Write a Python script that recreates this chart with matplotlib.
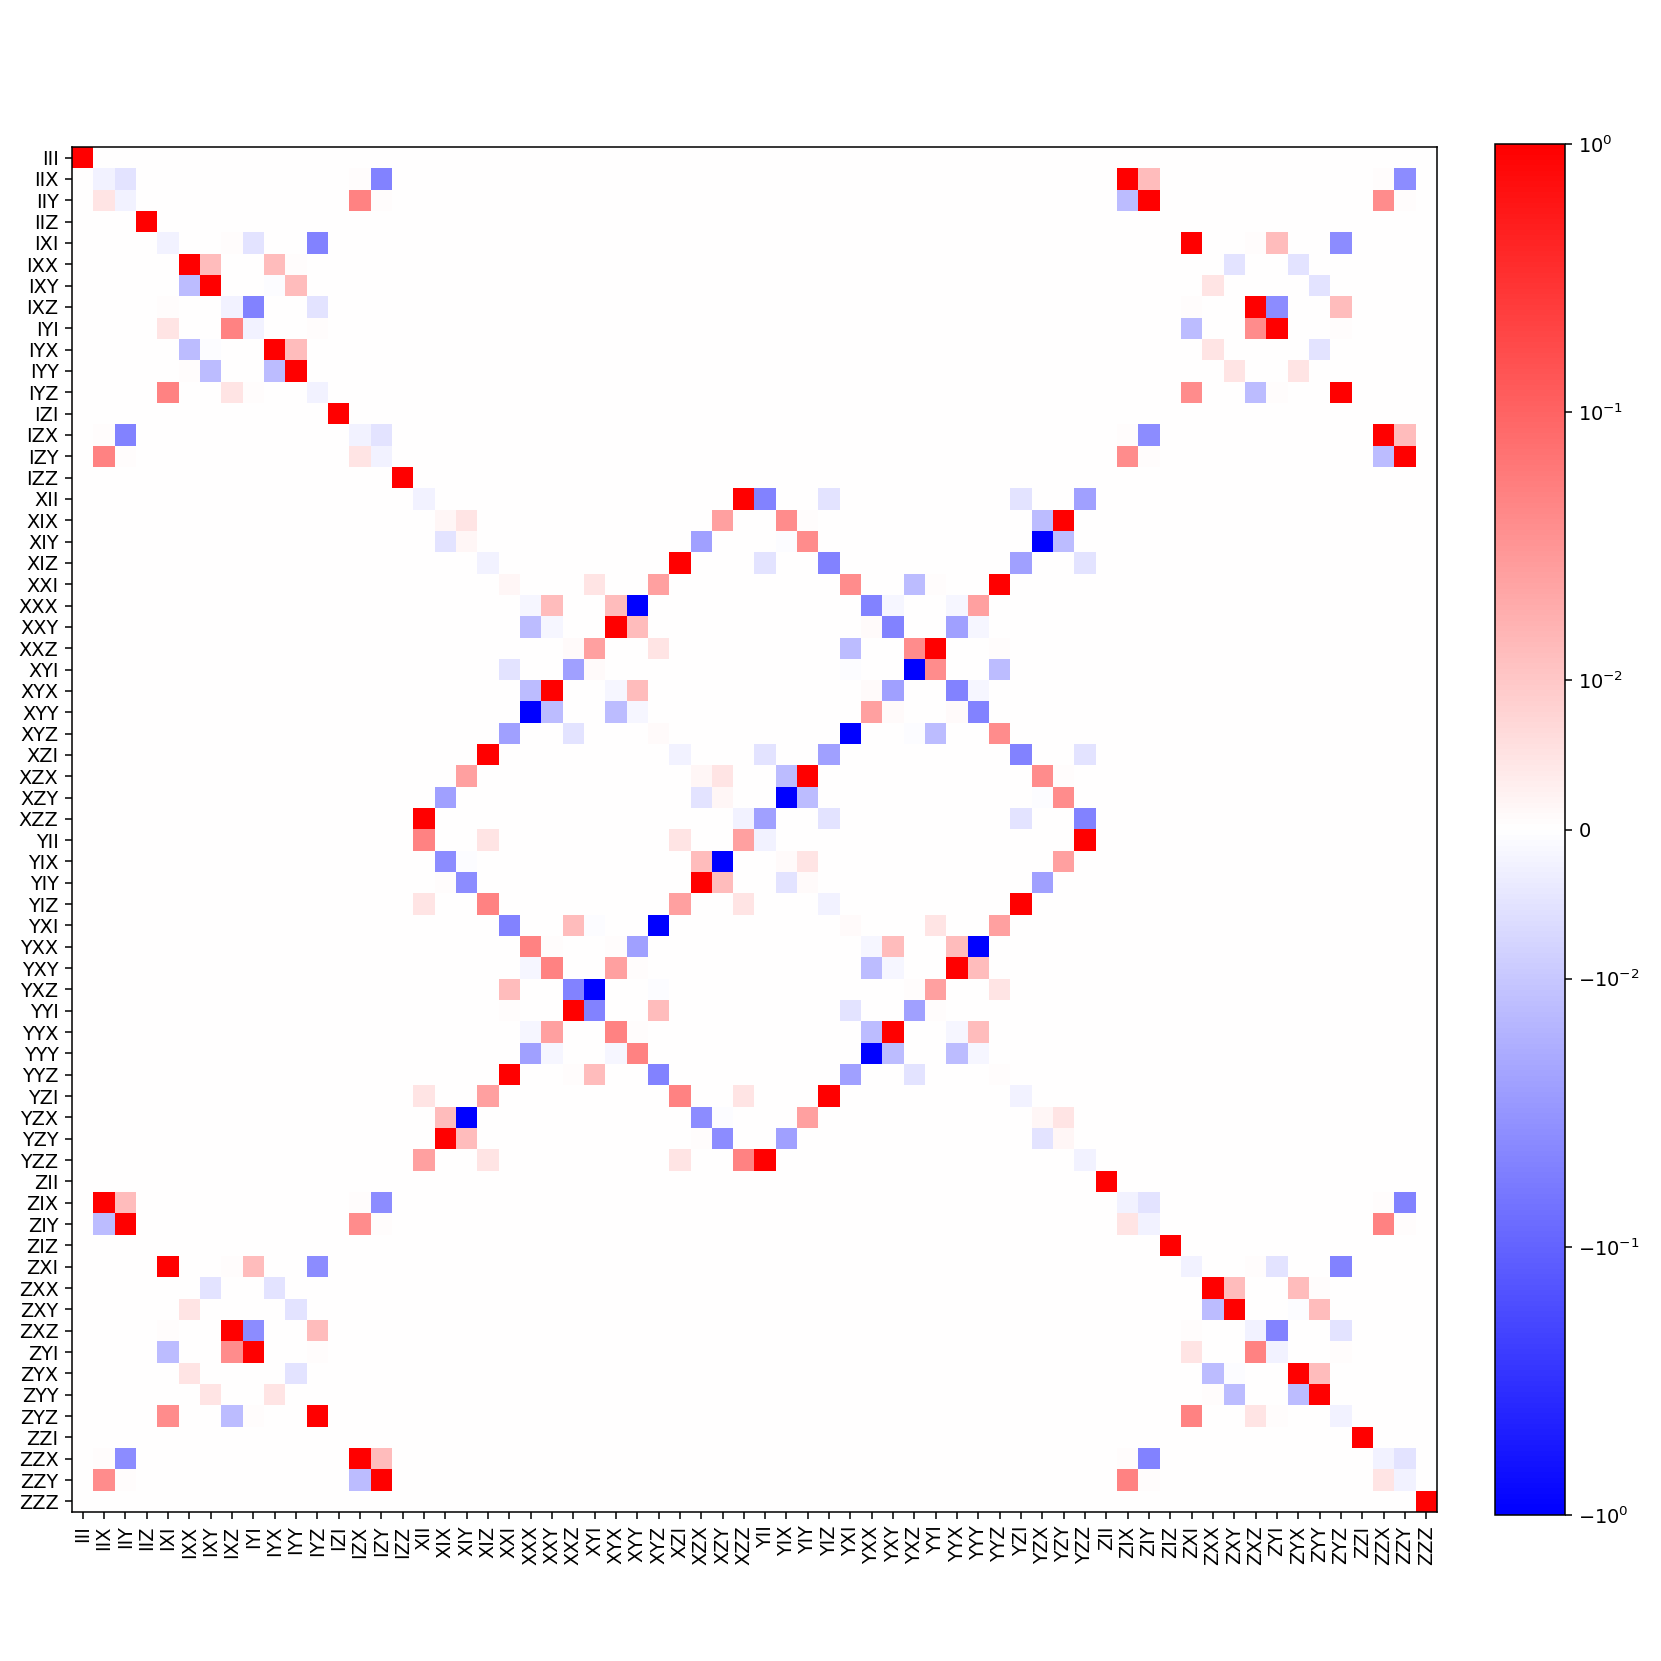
import numpy as np
import matplotlib
matplotlib.use("Agg")
import matplotlib.pyplot as plt
from matplotlib.colors import SymLogNorm

paulis = ["I", "X", "Y", "Z"]
labels = [a + b + c for a in paulis for b in paulis for c in paulis]

# Non-zero entries, grouped by the first Pauli of the row label
rows_I = {
    "III": {"III": 1.0},
    "IIX": {"IIX": -0.0025, "IIY": -0.005, "IZX": 0.0005, "IZY": -0.05, "ZIX": 1.0, "ZIY": 0.013, "ZZX": 0.0005, "ZZY": -0.04},
    "IIY": {"IIX": 0.005, "IIY": -0.0025, "IZX": 0.05, "IZY": 0.0005, "ZIX": -0.013, "ZIY": 1.0, "ZZX": 0.04, "ZZY": 0.0005},
    "IIZ": {"IIZ": 1.0},
    "IXI": {"IXI": -0.0025, "IXZ": 0.0005, "IYI": -0.005, "IYZ": -0.05, "ZXI": 1.0, "ZXZ": 0.0005, "ZYI": 0.013, "ZYZ": -0.04},
    "IXX": {"IXX": 1.0, "IXY": 0.013, "IYX": 0.013, "IYY": 0.0005, "ZXY": -0.005, "ZYX": -0.005},
    "IXY": {"IXX": -0.013, "IXY": 1.0, "IYX": -0.0005, "IYY": 0.013, "ZXX": 0.005, "ZYY": -0.005},
    "IXZ": {"IXI": 0.0005, "IXZ": -0.0025, "IYI": -0.05, "IYZ": -0.005, "ZXI": 0.0005, "ZXZ": 1.0, "ZYI": -0.04, "ZYZ": 0.013},
    "IYI": {"IXI": 0.005, "IXZ": 0.05, "IYI": -0.0025, "IYZ": 0.0005, "ZXI": -0.013, "ZXZ": 0.04, "ZYI": 1.0, "ZYZ": 0.0005},
    "IYX": {"IXX": -0.013, "IXY": -0.0005, "IYX": 1.0, "IYY": 0.013, "ZXX": 0.005, "ZYY": -0.005},
    "IYY": {"IXX": 0.0005, "IXY": -0.013, "IYX": -0.013, "IYY": 1.0, "ZXY": 0.005, "ZYX": 0.005},
    "IYZ": {"IXI": 0.05, "IXZ": 0.005, "IYI": 0.0005, "IYZ": -0.0025, "ZXI": 0.04, "ZXZ": -0.013, "ZYI": 0.0005, "ZYZ": 1.0},
    "IZI": {"IZI": 1.0},
    "IZX": {"IIX": 0.0005, "IIY": -0.05, "IZX": -0.0025, "IZY": -0.005, "ZIX": 0.0005, "ZIY": -0.04, "ZZX": 1.0, "ZZY": 0.013},
    "IZY": {"IIX": 0.05, "IIY": 0.0005, "IZX": 0.005, "IZY": -0.0025, "ZIX": 0.04, "ZIY": 0.0005, "ZZX": -0.013, "ZZY": 1.0},
    "IZZ": {"IZZ": 1.0},
}

rows_X = {
    "XII": {"XII": -0.0025, "XZZ": 1.0, "YII": -0.05, "YIZ": -0.005, "YZI": -0.005, "YZZ": -0.025},
    "XIX": {"XIX": 0.0015, "XIY": 0.005, "XZY": 0.025, "YIX": 0.04, "YIY": 0.0005, "YZX": -0.013, "YZY": 1.0},
    "XIY": {"XIX": -0.005, "XIY": 0.0015, "XZX": -0.025, "YIX": -0.0005, "YIY": 0.04, "YZX": -1.0, "YZY": -0.013},
    "XIZ": {"XIZ": -0.0025, "XZI": 1.0, "YII": -0.005, "YIZ": -0.05, "YZI": -0.025, "YZZ": -0.005},
    "XXI": {"XXI": 0.0015, "XYI": 0.005, "XYZ": 0.025, "YXI": 0.04, "YXZ": -0.013, "YYI": 0.0005, "YYZ": 1.0},
    "XXX": {"XXX": -0.0015, "XXY": 0.013, "XYX": 0.013, "XYY": -1.0, "YXX": -0.05, "YXY": -0.0015, "YYX": -0.0015, "YYY": 0.025},
    "XXY": {"XXX": -0.013, "XXY": -0.0015, "XYX": 1.0, "XYY": 0.013, "YXX": 0.0008, "YXY": -0.05, "YYX": -0.025, "YYY": -0.0015},
    "XXZ": {"XXZ": 0.0008, "XYI": 0.025, "XYZ": 0.005, "YXI": -0.013, "YXZ": 0.04, "YYI": 1.0, "YYZ": 0.0005},
    "XYI": {"XXI": -0.005, "XXZ": -0.025, "XYI": 0.0008, "YXI": -0.0005, "YXZ": -1.0, "YYI": 0.04, "YYZ": -0.013},
    "XYX": {"XXX": -0.013, "XXY": 1.0, "XYX": -0.0015, "XYY": 0.013, "YXX": 0.0008, "YXY": -0.025, "YYX": -0.05, "YYY": -0.0015},
    "XYY": {"XXX": -1.0, "XXY": -0.013, "XYX": -0.013, "XYY": -0.0015, "YXX": 0.025, "YXY": 0.0008, "YYX": 0.0008, "YYY": -0.05},
    "XYZ": {"XXI": -0.025, "XXZ": -0.005, "XYZ": 0.0008, "YXI": -1.0, "YXZ": -0.0005, "YYI": -0.013, "YYZ": 0.04},
    "XZI": {"XIZ": 1.0, "XZI": -0.0025, "YII": -0.005, "YIZ": -0.025, "YZI": -0.05, "YZZ": -0.005},
    "XZX": {"XIY": 0.025, "XZX": 0.0015, "XZY": 0.005, "YIX": -0.013, "YIY": 1.0, "YZX": 0.04, "YZY": 0.0005},
    "XZY": {"XIX": -0.025, "XZX": -0.005, "XZY": 0.0015, "YIX": -1.0, "YIY": -0.013, "YZX": -0.0005, "YZY": 0.04},
    "XZZ": {"XII": 1.0, "XZZ": -0.0025, "YII": -0.025, "YIZ": -0.005, "YZI": -0.005, "YZZ": -0.05},
}

rows_Y = {
    "YII": {"XII": 0.05, "XIZ": 0.005, "XZI": 0.005, "XZZ": 0.025, "YII": -0.0025, "YZZ": 1.0},
    "YIX": {"XIX": -0.04, "XIY": -0.0005, "XZX": 0.013, "XZY": -1.0, "YIX": 0.0008, "YIY": 0.005, "YZY": 0.025},
    "YIY": {"XIX": 0.0005, "XIY": -0.04, "XZX": 1.0, "XZY": 0.013, "YIX": -0.005, "YIY": 0.0008, "YZX": -0.025},
    "YIZ": {"XII": 0.005, "XIZ": 0.05, "XZI": 0.025, "XZZ": 0.005, "YIZ": -0.0025, "YZI": 1.0},
    "YXI": {"XXI": -0.05, "XXZ": 0.013, "XYI": -0.0005, "XYZ": -1.0, "YXI": 0.0008, "YYI": 0.005, "YYZ": 0.025},
    "YXX": {"XXX": 0.05, "XXY": 0.0005, "XYX": 0.0005, "XYY": -0.025, "YXX": -0.0015, "YXY": 0.013, "YYX": 0.013, "YYY": -1.0},
    "YXY": {"XXX": -0.0015, "XXY": 0.05, "XYX": 0.025, "XYY": 0.0005, "YXX": -0.013, "YXY": -0.0015, "YYX": 1.0, "YYY": 0.013},
    "YXZ": {"XXI": 0.013, "XXZ": -0.05, "XYI": -1.0, "XYZ": -0.0005, "YXZ": 0.0005, "YYI": 0.025, "YYZ": 0.005},
    "YYI": {"XXI": 0.0005, "XXZ": 1.0, "XYI": -0.05, "XYZ": 0.013, "YXI": -0.005, "YXZ": -0.025, "YYI": 0.0005},
    "YYX": {"XXX": -0.0015, "XXY": 0.025, "XYX": 0.05, "XYY": 0.0005, "YXX": -0.013, "YXY": 1.0, "YYX": -0.0015, "YYY": 0.013},
    "YYY": {"XXX": -0.025, "XXY": -0.0015, "XYX": -0.0015, "XYY": 0.05, "YXX": -1.0, "YXY": -0.013, "YYX": -0.013, "YYY": -0.0015},
    "YYZ": {"XXI": 1.0, "XXZ": 0.0005, "XYI": 0.013, "XYZ": -0.05, "YXI": -0.025, "YXZ": -0.005, "YYZ": 0.0005},
    "YZI": {"XII": 0.005, "XIZ": 0.025, "XZI": 0.05, "XZZ": 0.005, "YIZ": 1.0, "YZI": -0.0025},
    "YZX": {"XIX": 0.013, "XIY": -1.0, "XZX": -0.04, "XZY": -0.0005, "YIY": 0.025, "YZX": 0.0015, "YZY": 0.005},
    "YZY": {"XIX": 1.0, "XIY": 0.013, "XZX": 0.0005, "XZY": -0.04, "YIX": -0.025, "YZX": -0.005, "YZY": 0.0015},
    "YZZ": {"XII": 0.025, "XIZ": 0.005, "XZI": 0.005, "XZZ": 0.05, "YII": 1.0, "YZZ": -0.0025},
}

rows_Z = {
    "ZII": {"ZII": 1.0},
    "ZIX": {"IIX": 1.0, "IIY": 0.013, "IZX": 0.0005, "IZY": -0.04, "ZIX": -0.0025, "ZIY": -0.005, "ZZX": 0.0005, "ZZY": -0.05},
    "ZIY": {"IIX": -0.013, "IIY": 1.0, "IZX": 0.04, "IZY": 0.0005, "ZIX": 0.005, "ZIY": -0.0025, "ZZX": 0.05, "ZZY": 0.0005},
    "ZIZ": {"ZIZ": 1.0},
    "ZXI": {"IXI": 1.0, "IXZ": 0.0005, "IYI": 0.013, "IYZ": -0.04, "ZXI": -0.0025, "ZXZ": 0.0005, "ZYI": -0.005, "ZYZ": -0.05},
    "ZXX": {"IXY": -0.005, "IYX": -0.005, "ZXX": 1.0, "ZXY": 0.013, "ZYX": 0.013, "ZYY": 0.0005},
    "ZXY": {"IXX": 0.005, "IYY": -0.005, "ZXX": -0.013, "ZXY": 1.0, "ZYX": -0.0005, "ZYY": 0.013},
    "ZXZ": {"IXI": 0.0005, "IXZ": 1.0, "IYI": -0.04, "IYZ": 0.013, "ZXI": 0.0005, "ZXZ": -0.0025, "ZYI": -0.05, "ZYZ": -0.005},
    "ZYI": {"IXI": -0.013, "IXZ": 0.04, "IYI": 1.0, "IYZ": 0.0005, "ZXI": 0.005, "ZXZ": 0.05, "ZYI": -0.0025, "ZYZ": 0.0005},
    "ZYX": {"IXX": 0.005, "IYY": -0.005, "ZXX": -0.013, "ZXY": -0.0005, "ZYX": 1.0, "ZYY": 0.013},
    "ZYY": {"IXY": 0.005, "IYX": 0.005, "ZXX": 0.0005, "ZXY": -0.013, "ZYX": -0.013, "ZYY": 1.0},
    "ZYZ": {"IXI": 0.04, "IXZ": -0.013, "IYI": 0.0005, "IYZ": 1.0, "ZXI": 0.05, "ZXZ": 0.005, "ZYI": 0.0005, "ZYZ": -0.0025},
    "ZZI": {"ZZI": 1.0},
    "ZZX": {"IIX": 0.0005, "IIY": -0.04, "IZX": 1.0, "IZY": 0.013, "ZIX": 0.0005, "ZIY": -0.05, "ZZX": -0.0025, "ZZY": -0.005},
    "ZZY": {"IIX": 0.04, "IIY": 0.0005, "IZX": -0.013, "IZY": 1.0, "ZIX": 0.05, "ZIY": 0.0005, "ZZX": 0.005, "ZZY": -0.0025},
    "ZZZ": {"ZZZ": 1.0},
}

cbar_ticks = [-1.0, -0.1, -0.01, 0.0, 0.01, 0.1, 1.0]

# assemble the matrix
n = len(labels)
index = {lab: k for k, lab in enumerate(labels)}
M = np.zeros((n, n))
for group in (rows_I, rows_X, rows_Y, rows_Z):
    for rlab, entries in group.items():
        for clab, v in entries.items():
            M[index[rlab], index[clab]] = v

W = 12.0
DPI = 1661 / W
fig = plt.figure(figsize=(W, W), dpi=DPI)
ax = fig.add_axes([72 / 1661, 1 - (147 + 1365) / 1661, 1365 / 1661, 1365 / 1661])
norm = SymLogNorm(linthresh=0.01, linscale=0.5, vmin=-1, vmax=1, base=10)
im = ax.imshow(M, cmap="bwr", norm=norm, interpolation="nearest", aspect="equal")

ax.set_xticks(np.arange(n))
ax.set_yticks(np.arange(n))
ax.set_xticklabels(labels, rotation=90, fontsize=10)
ax.set_yticklabels(labels, fontsize=10)

cax = fig.add_axes([1495 / 1661, 1 - 1515 / 1661, 70 / 1661, 1371 / 1661])
cb = fig.colorbar(im, cax=cax, ticks=cbar_ticks)
cb.ax.minorticks_off()
cb.ax.tick_params(labelsize=10)

fig.savefig("out.png", dpi=DPI)
